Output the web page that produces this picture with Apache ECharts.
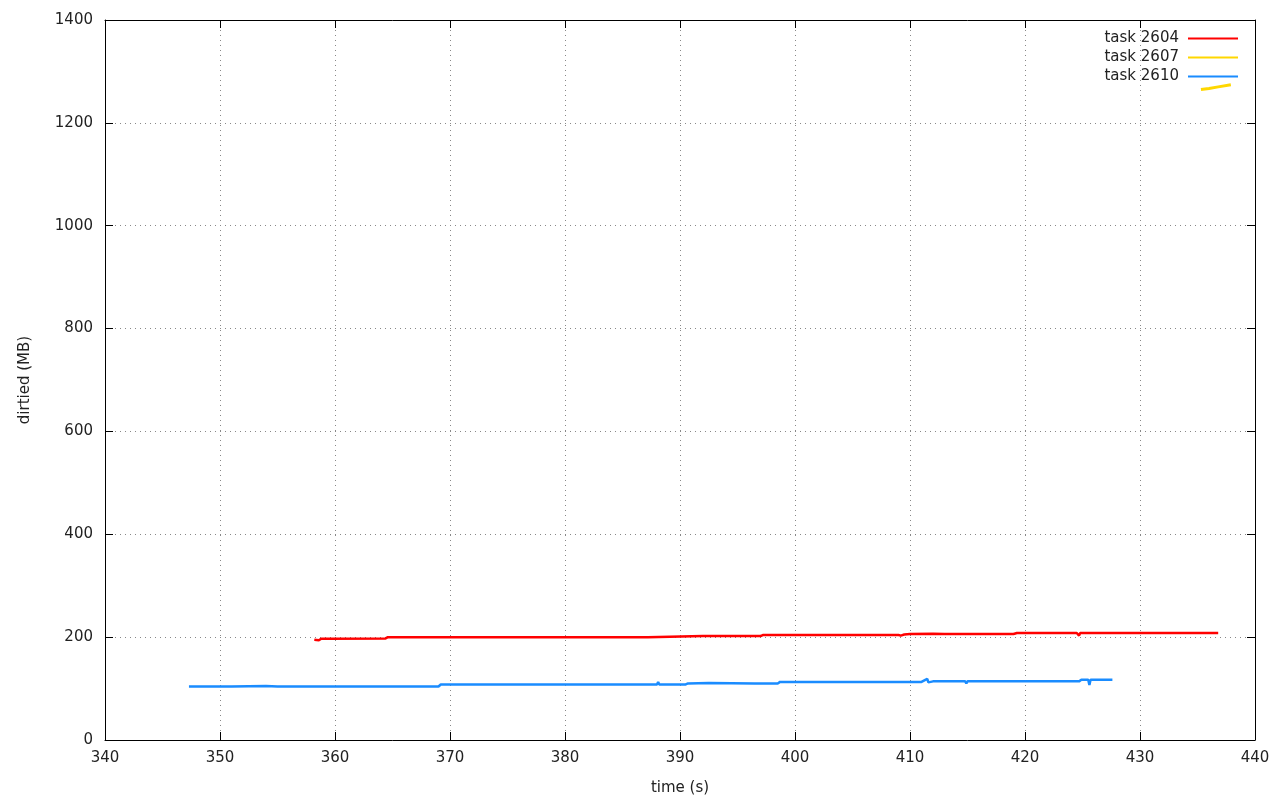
<!DOCTYPE html>
<html>
<head>
<meta charset="utf-8">
<script src="https://cdn.jsdelivr.net/npm/echarts@6/dist/echarts.min.js"></script>
<style>html,body{margin:0;padding:0;background:#fff}#c{width:1280px;height:800px}</style>
</head>
<body>
<div id="c"></div>
<script>
const seriesNames = ['task 2604', 'task 2607', 'task 2610'];
const xTicks = [340, 350, 360, 370, 380, 390, 400, 410, 420, 430, 440];
const yTicks = [0, 200, 400, 600, 800, 1000, 1200, 1400];

const task2604 = [
  [358.2,195],[358.6,194],[358.8,197],[359.5,197],[364.4,197.5],[364.6,200],[369,200],
  [375.5,200],[375.6,201.5],[375.7,200],[387.2,200],[387.3,202],[392,202],[392.1,203.5],
  [392.2,202],[397,202],[397.2,204],[398.5,204],[398.6,205.5],[398.7,204],[409,204],
  [409.2,203],[409.5,205],[410,206],[412,206.5],[412.1,205],[413,206],[419,206],[419.3,208],
  [421,208],[421.1,210],[421.2,208],[424.5,208],[424.6,210],[424.7,203],[424.8,208],
  [426,208],[426.1,210],[426.2,208],[436.8,208]
];
const task2607 = [
  [435.3,1265],[436.0,1267],[436.8,1270],[437.9,1274]
];
const task2610 = [
  [347.3,104],[349,104],[349.1,105],[351,104],[354,105],[355,104],[369,104],[369.2,108],
  [375.3,108],[375.4,109],[375.5,108],[388,108],[388.1,113],[388.2,108],[390.5,108],[390.7,110],
  [392.5,111],[396.5,110],[398.5,110],[398.7,113],[408,113],[411,113],[411.5,119],[411.6,112],
  [412,114],[414.8,114],[414.9,110],[415,114],[421.5,114],[424.7,114],[424.9,117],[425.5,117],
  [425.6,107],[425.7,117],[427.6,117]
];
const colors = ['#ff0000', '#ffd700', '#1a8cff'];

const chart = echarts.init(document.getElementById('c'), null, {renderer: 'canvas'});
const font = 'DejaVu Sans';
const gridLine = {show: true, lineStyle: {color: '#888', type: [1, 4], width: 1}};
const axisLine = {show: true, onZero: false, lineStyle: {color: '#000', width: 1}};
const tick = {show: true, inside: true, length: 8, lineStyle: {color: '#000'}};
const plain = v => String(v);

chart.setOption({
  animation: false,
  backgroundColor: '#fff',
  grid: {left: 105, right: 25, top: 20, bottom: 60, containLabel: false, outerBoundsMode: 'none'},
  legend: {
    orient: 'vertical', right: 37, top: 26, align: 'right', itemGap: 4,
    itemWidth: 50, itemHeight: 2, icon: 'rect',
    textStyle: {fontFamily: font, fontSize: 15, color: '#222', lineHeight: 15, padding: [0, 4, 0, 0]},
    data: seriesNames
  },
  xAxis: [{
    type: 'value', min: xTicks[0], max: xTicks[xTicks.length - 1], interval: 10,
    name: 'time (s)', nameLocation: 'middle', nameGap: 41,
    nameTextStyle: {fontFamily: font, fontSize: 15, color: '#222'},
    axisLine: axisLine, axisTick: tick, splitLine: gridLine,
    axisLabel: {fontFamily: font, fontSize: 15, color: '#222', margin: 11, formatter: plain}
  }, {
    type: 'value', position: 'top', min: xTicks[0], max: xTicks[xTicks.length - 1], interval: 10,
    axisLine: axisLine, axisTick: tick, splitLine: {show: false}, axisLabel: {show: false}
  }],
  yAxis: [{
    type: 'value', min: yTicks[0], max: yTicks[yTicks.length - 1], interval: 200,
    name: 'dirtied (MB)', nameLocation: 'middle', nameGap: 72,
    nameTextStyle: {fontFamily: font, fontSize: 15, color: '#222'},
    axisLine: axisLine, axisTick: tick, splitLine: gridLine,
    axisLabel: {fontFamily: font, fontSize: 15, color: '#222', margin: 12, formatter: plain}
  }, {
    type: 'value', position: 'right', min: yTicks[0], max: yTicks[yTicks.length - 1], interval: 200,
    axisLine: axisLine, axisTick: tick, splitLine: {show: false}, axisLabel: {show: false}
  }],
  series: [
    {name: seriesNames[0], type: 'line', data: task2604, symbol: 'none', color: colors[0], lineStyle: {width: 2.5}},
    {name: seriesNames[1], type: 'line', data: task2607, symbol: 'none', color: colors[1], lineStyle: {width: 3}},
    {name: seriesNames[2], type: 'line', data: task2610, symbol: 'none', color: colors[2], lineStyle: {width: 2.5}}
  ]
});
</script>
</body>
</html>
